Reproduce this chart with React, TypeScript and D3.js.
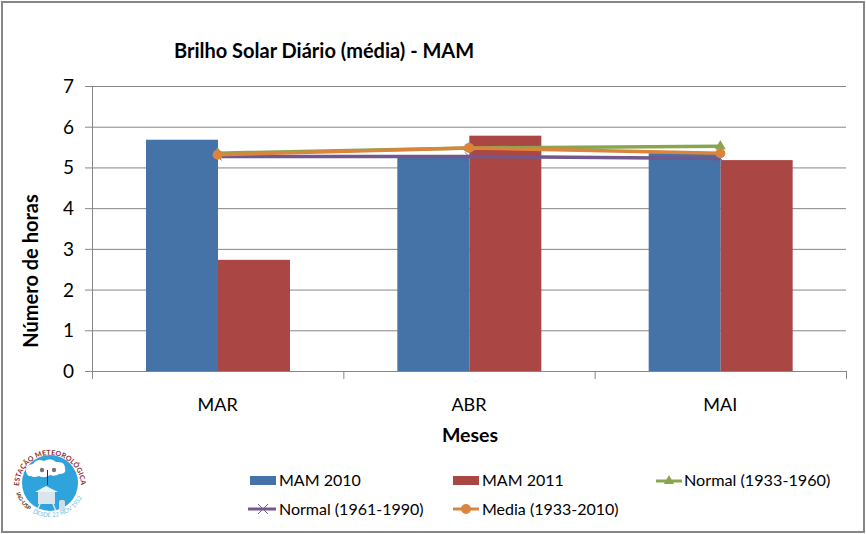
import React from "react";
import * as d3 from "d3";

const months = ["MAR", "ABR", "MAI"];
const yTicks = [0, 1, 2, 3, 4, 5, 6, 7];
const mam2010 = [5.68, 5.27, 5.35];
const mam2011 = [2.73, 5.78, 5.18];
const normal3360 = [5.35, 5.48, 5.52];
const normal6190 = [5.27, 5.27, 5.22];
const media = [5.31, 5.48, 5.35];
const barNames = ["MAM 2010", "MAM 2011"];

const BLUE = "#4572A7", RED = "#AA4643", GREEN = "#89A54E", PURPLE = "#71588F", ORANGE = "#DB843D";
const FONT = "Lato, Carlito, sans-serif";
const GREY = "#868686";

const x0 = d3.scaleBand<string>().domain(months).range([92, 846]);
const x1 = d3.scaleBand<string>().domain(barNames).range([54, 198]);
const y = d3.scaleLinear().domain([0, 7]).range([371, 86]);
const cx = (i: number) => x0(months[i])! + x0.bandwidth() / 2;
const line = d3.line<number>().x((_, i) => cx(i)).y((v) => y(v));

function Logo() {
  const c = 50, r = 28;
  return (
    <g transform="translate(0,433)">
      <defs>
        <path id="arcTop" d="M 19,53 A 31 31 0 1 1 81,53" />
        <path id="arcBot" d="M 16,60 A 36 36 0 0 0 84,60" />
      </defs>
      <circle cx={c} cy={c} r={r} fill="#2FA3DC" />
      <path d="M26,38 q-1,-6 7,-7 q4,-6 11,-3 q7,-4 12,1 q9,-1 9,6 q2,6 -6,6 q-4,3 -9,1 q-6,4 -11,1 q-5,2 -8,0 q-4,1 -5,-5z" fill="#fff" />
      <circle cx={42} cy={37} r={2.2} fill="#777" />
      <circle cx={54} cy={37} r={2.2} fill="#777" />
      <rect x={47} y={37} width={1} height={15} fill="#234" />
      <path d="M35,59 L46,53 L58,59z" fill="#eef4f8" />
      <rect x={38} y={59} width={17} height={12} fill="#dbe6ec" />
      <rect x={59} y={67} width={6} height={11} rx={2} fill="#cfdde5" />
      <path d="M40,71 L37,78 M53,71 L56,78" stroke="#dbe6ec" strokeWidth={1.5} />
      <text fontFamily={FONT} fontSize={7} fontWeight={700} fill="#8E2A2E" letterSpacing={0.15}>
        <textPath href="#arcTop">ESTAÇÃO METEOROLÓGICA</textPath>
      </text>
      <text fontFamily={FONT} fontSize={5.5} fontWeight={700} fill="#333">
        <textPath href="#arcBot">IAG-USP</textPath>
      </text>
      <text fontFamily={FONT} fontSize={6} fill="#6FBFE3">
        <textPath href="#arcBot" startOffset="26">DESDE 22 NOV 1932</textPath>
      </text>
    </g>
  );
}

export default function App() {
  return (
    <svg width={866} height={534} style={{ position: "absolute", left: 0, top: 0, background: "#fff" }}>
      <rect x={2} y={2} width={862} height={530} fill="#fff" stroke={GREY} strokeWidth={2} />
      <text x={174} y={58} fontFamily={FONT} fontSize={20} fontWeight={700} fill="#000">
        Brilho Solar Diário (média) - MAM
      </text>
      {yTicks.map((t) => (
        <g key={t}>
          <line x1={85} x2={846} y1={y(t) + 0.5} y2={y(t) + 0.5} stroke={GREY} />
          <text x={74} y={y(t) + 7} textAnchor="end" fontFamily={FONT} fontSize={19} fill="#000">{t}</text>
        </g>
      ))}
      <line x1={92.5} x2={92.5} y1={86} y2={371} stroke={GREY} />
      {[0, 1, 2, 3].map((i) => {
        const xx = 92 + i * x0.bandwidth();
        return <line key={i} x1={xx + 0.5} x2={xx + 0.5} y1={371} y2={379} stroke={GREY} />;
      })}
      {months.map((m, i) => (
        <g key={m}>
          <rect x={x0(m)! + x1(barNames[0])!} y={y(mam2010[i])} width={x1.bandwidth()} height={371 - y(mam2010[i])} fill={BLUE} />
          <rect x={x0(m)! + x1(barNames[1])!} y={y(mam2011[i])} width={x1.bandwidth()} height={371 - y(mam2011[i])} fill={RED} />
          <text x={cx(i)} y={411} textAnchor="middle" fontFamily={FONT} fontSize={18} fill="#000">{m}</text>
        </g>
      ))}
      <path d={line(normal3360)!} fill="none" stroke={GREEN} strokeWidth={3.5} />
      {normal3360.map((v, i) => (
        <path key={i} d={d3.symbol(d3.symbolTriangle, 50)()!} transform={`translate(${cx(i)},${y(v)})`} fill={GREEN} />
      ))}
      <path d={line(normal6190)!} fill="none" stroke={PURPLE} strokeWidth={3.5} />
      {normal6190.map((v, i) => (
        <path key={i} d="M-4,-4L4,4M-4,4L4,-4" transform={`translate(${cx(i)},${y(v)})`} stroke={PURPLE} strokeWidth={1} />
      ))}
      <path d={line(media)!} fill="none" stroke={ORANGE} strokeWidth={3.5} />
      {media.map((v, i) => (
        <circle key={i} cx={cx(i)} cy={y(v)} r={5} fill={ORANGE} />
      ))}
      <text transform="translate(38,271) rotate(-90)" textAnchor="middle" fontFamily={FONT} fontSize={20} fontWeight={700} fill="#000">
        Número de horas
      </text>
      <text x={470} y={442} textAnchor="middle" fontFamily={FONT} fontSize={19.5} fontWeight={700} fill="#000">Meses</text>

      <rect x={250} y={476} width={26} height={9} fill={BLUE} />
      <text x={279} y={486} fontFamily={FONT} fontSize={16} fill="#000">MAM 2010</text>
      <rect x={453} y={476} width={26} height={9} fill={RED} />
      <text x={482} y={486} fontFamily={FONT} fontSize={16} fill="#000">MAM 2011</text>
      <line x1={656} x2={682} y1={481} y2={481} stroke={GREEN} strokeWidth={3} />
      <path d={d3.symbol(d3.symbolTriangle, 45)()!} transform="translate(669,481)" fill={GREEN} />
      <text x={684} y={486} fontFamily={FONT} fontSize={16.2} fill="#000">Normal (1933-1960)</text>
      <line x1={248} x2={276} y1={509} y2={509} stroke={PURPLE} strokeWidth={3} />
      <path d="M-5,-5L5,5M-5,5L5,-5" transform="translate(263,509)" stroke={PURPLE} strokeWidth={1} />
      <text x={279} y={515} fontFamily={FONT} fontSize={16} fill="#000">Normal (1961-1990)</text>
      <line x1={453} x2={479} y1={509} y2={509} stroke={ORANGE} strokeWidth={3} />
      <circle cx={466} cy={509} r={5} fill={ORANGE} />
      <text x={482} y={515} fontFamily={FONT} fontSize={16} fill="#000">Media (1933-2010)</text>
      <Logo />
    </svg>
  );
}
